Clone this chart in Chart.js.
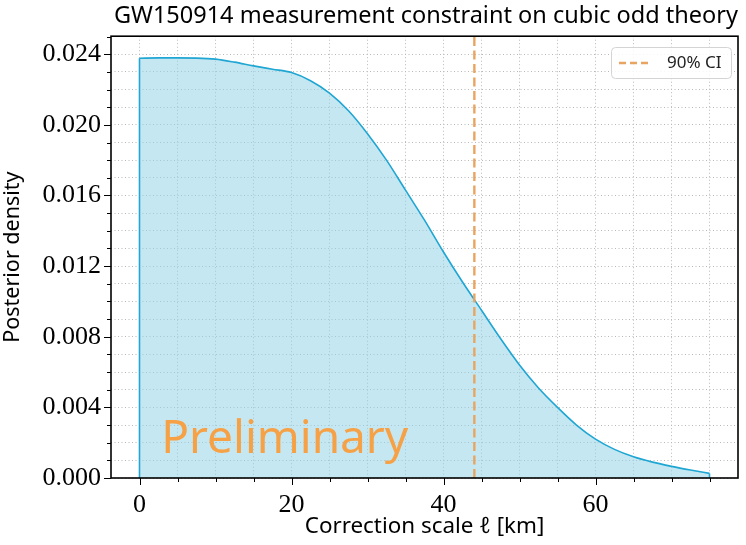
<!DOCTYPE html>
<html>
<head>
<meta charset="utf-8">
<script src="https://cdn.jsdelivr.net/npm/chart.js@4"></script>
<style>
  html, body { margin: 0; padding: 0; background: #fff; }
  #wrap { width: 746px; height: 545px; }
</style>
</head>
<body>
<div id="wrap"><canvas id="chart"></canvas></div>
<script>
// ── Data ─────────────────────────────────────────────
const ELL_KM = [0, 2.5, 5, 7.5, 10, 12.5, 15, 17.5, 20, 22.5, 25, 27.5, 30, 32.5, 35, 37.5,
                40, 42.5, 45, 47.5, 50, 52.5, 55, 57.5, 60, 62.5, 65, 67.5, 70, 72.5, 75];
const DENSITY = [0.02377, 0.02379, 0.02379, 0.02378, 0.02372, 0.02355, 0.02334, 0.02315,
                 0.02296, 0.02250, 0.02180, 0.02080, 0.01950, 0.01800, 0.01630, 0.01460,
                 0.01280, 0.01110, 0.00950, 0.00790, 0.00640, 0.00510, 0.00400, 0.00300,
                 0.00220, 0.00162, 0.00120, 0.00090, 0.00066, 0.00045, 0.00026];
const CI_90 = 44.06;
const X_RANGE = [-3.75, 78.75];
const Y_RANGE = [0, 0.02502];

const SERIF = '"Liberation Serif", "DejaVu Serif", serif';
const SANS  = '"Noto Sans", "DejaVu Sans", sans-serif';

const LINE_BLUE = '#1fa6d3';
const CI_ORANGE = '#e8a562';

// ── Frame, outward tick marks, watermark, legend ──────
const decorations = {
  id: 'decorations',
  afterDraw(chart) {
    const { ctx, chartArea: a, scales } = chart;
    ctx.save();
    // ticks
    ctx.strokeStyle = '#000';
    ctx.lineWidth = 1;
    scales.x.ticks.forEach(t => {
      const px = Math.round(scales.x.getPixelForValue(t.value)) + 0.5;
      const len = t.label ? 7 : 4;
      ctx.beginPath(); ctx.moveTo(px, a.bottom); ctx.lineTo(px, a.bottom + len); ctx.stroke();
    });
    scales.y.ticks.forEach(t => {
      const py = Math.round(scales.y.getPixelForValue(t.value)) + 0.5;
      const len = t.label ? 7 : 4;
      ctx.beginPath(); ctx.moveTo(a.left, py); ctx.lineTo(a.left - len, py); ctx.stroke();
    });
    // frame
    ctx.lineWidth = 1.6;
    ctx.strokeRect(a.left, a.top, a.right - a.left, a.bottom - a.top);

    // watermark
    ctx.fillStyle = '#f7a146';
    ctx.font = '46px ' + SANS;
    ctx.textBaseline = 'alphabetic';
    ctx.fillText('Preliminary', a.left + 0.08 * (a.right - a.left), a.bottom - 0.057 * (a.bottom - a.top));

    // legend
    const lx = 611, ly = 47, lw = 120, lh = 31;
    ctx.fillStyle = 'rgba(255,255,255,0.85)';
    ctx.strokeStyle = '#d4d4d4';
    ctx.lineWidth = 1;
    ctx.beginPath();
    ctx.roundRect(lx + 0.5, ly + 0.5, lw, lh, 4);
    ctx.fill(); ctx.stroke();
    ctx.strokeStyle = CI_ORANGE;
    ctx.lineWidth = 2.4;
    ctx.setLineDash([7, 4]);
    ctx.beginPath(); ctx.moveTo(lx + 8, ly + 16); ctx.lineTo(lx + 41, ly + 16); ctx.stroke();
    ctx.setLineDash([]);
    ctx.fillStyle = '#222';
    ctx.font = '17px ' + SANS;
    ctx.textBaseline = 'middle';
    ctx.fillText('90% CI', lx + 56, ly + 16);
    ctx.restore();
  }
};

const gridOpts = { color: '#b8b8b8', lineWidth: 1, drawTicks: false };
const borderOpts = { display: false, dash: [1, 2.5] };

const last = ELL_KM.length - 1;

new Chart(document.getElementById('chart'), {
  type: 'line',
  data: {
    datasets: [
      {
        label: 'posterior',
        data: ELL_KM.map((x, i) => ({ x, y: DENSITY[i] })),
        borderColor: LINE_BLUE,
        backgroundColor: 'rgba(150,212,232,0.55)',
        borderWidth: 1.6,
        fill: 'origin',
        cubicInterpolationMode: 'monotone',
        pointRadius: 0,
        order: 2
      },
      {
        // vertical edges of the filled posterior at both ends of the range
        label: 'edges',
        data: [
          { x: ELL_KM[0], y: Y_RANGE[0] }, { x: ELL_KM[0], y: DENSITY[0] },
          { x: ELL_KM[0], y: null },
          { x: ELL_KM[last], y: DENSITY[last] }, { x: ELL_KM[last], y: Y_RANGE[0] }
        ],
        borderColor: LINE_BLUE,
        borderWidth: 1.6,
        spanGaps: false,
        pointRadius: 0,
        fill: false,
        order: 1
      },
      {
        label: '90% CI',
        data: [{ x: CI_90, y: Y_RANGE[0] }, { x: CI_90, y: Y_RANGE[1] }],
        borderColor: CI_ORANGE,
        borderWidth: 2.4,
        borderDash: [9, 4.5],
        pointRadius: 0,
        fill: false,
        order: 0
      }
    ]
  },
  options: {
    responsive: true,
    maintainAspectRatio: false,
    animation: false,
    layout: { padding: { left: 0, right: 8, top: 0, bottom: 0 } },
    plugins: {
      legend: { display: false },
      tooltip: { enabled: false },
      title: {
        display: true,
        text: 'GW150914 measurement constraint on cubic odd theory',
        align: 'end',
        color: '#000',
        font: { family: SANS, size: 23.5, weight: 'normal' },
        padding: { top: 2, bottom: 6 }
      }
    },
    scales: {
      x: {
        type: 'linear',
        min: X_RANGE[0], max: X_RANGE[1],
        grid: gridOpts,
        border: borderOpts,
        ticks: {
          stepSize: 5,
          includeBounds: false,
          autoSkip: false,
          maxRotation: 0,
          padding: 12,
          color: '#000',
          font: { family: SERIF, size: 26 },
          callback: v => (v % 20 === 0 ? String(v) : '')
        },
        title: {
          display: true,
          text: 'Correction scale \u2113 [km]',
          color: '#000',
          font: { family: SANS, size: 22.4 },
          padding: { top: 0, bottom: 5 }
        },
        afterFit: s => { s.height = 67; }
      },
      y: {
        type: 'linear',
        min: Y_RANGE[0], max: Y_RANGE[1],
        grid: gridOpts,
        border: borderOpts,
        ticks: {
          stepSize: 0.001,
          includeBounds: false,
          autoSkip: false,
          padding: 10,
          color: '#000',
          font: { family: SERIF, size: 26 },
          callback: v => {
            const k = Math.round(v * 1000);
            return k % 4 === 0 ? (k / 1000).toFixed(3) : '';
          }
        },
        title: {
          display: true,
          text: 'Posterior density',
          color: '#000',
          font: { family: SANS, size: 21.5 },
          padding: { top: 0, bottom: 4 }
        },
        afterFit: s => { s.width = 111; }
      }
    }
  },
  plugins: [decorations]
});
</script>
</body>
</html>
